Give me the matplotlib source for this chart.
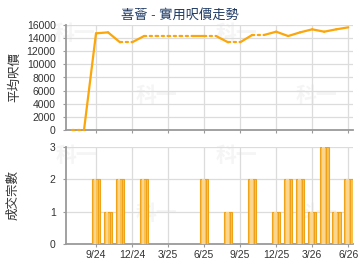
import matplotlib
matplotlib.use("Agg")
import matplotlib.pyplot as plt
import numpy as np

months = ["7/24", "8/24", "9/24", "10/24", "11/24", "12/24", "1/25", "2/25", "3/25", "4/25",
          "5/25", "6/25", "7/25", "8/25", "9/25", "10/25", "11/25", "12/25", "1/26", "2/26",
          "3/26", "4/26", "5/26", "6/26"]
price = [0, 0, 14730, 14880, 13360, 13360, 14320, 14320, 14320, 14320,
         14320, 14320, 14320, 13360, 13360, 14480, 14480, 14980, 14320, 14880,
         15340, 14980, 15340, 15640]
counts = [0, 0, 2, 1, 2, 0, 2, 0, 0, 0,
          0, 2, 0, 1, 0, 2, 0, 1, 2, 2,
          1, 3, 1, 2]
tick_labels = ["9/24", "12/24", "3/25", "6/25", "9/25", "12/25", "3/26", "6/26"]

title = "喜薈 - 實用呎價走勢"
ylabel_top = "平均呎價"
ylabel_bot = "成交宗數"

plt.rcParams['font.family'] = ['Liberation Sans', 'Noto Sans CJK TC', 'DejaVu Sans']

fig = plt.figure(figsize=(3.6, 2.7), dpi=100)
W, H = 360.0, 270.0

def axes_px(x0, y0, x1, y1):
    return fig.add_axes([x0 / W, 1 - y1 / H, (x1 - x0) / W, (y1 - y0) / H])

ax1 = axes_px(66, 25, 353, 130)
ax2 = axes_px(66, 147, 353, 244)

x = np.arange(len(months))
tick_pos = [months.index(t) for t in tick_labels]

line_color = "#FBA60A"
grid_color = "#DCDCDC"
spine_color = "#9A9A9A"
text_color = "#333333"

# watermarks
for (wx, wy) in [(74, 33), (156, 95), (236, 33), (316, 95),
                 (76, 156), (156, 213), (236, 156), (316, 213)]:
    fig.text(wx / W, 1 - wy / H, "科一", fontsize=15, fontweight='bold',
             color="#F5F5F5", ha='center', va='center', zorder=-5,
             family=['Noto Sans CJK TC'])

for ax in (ax1, ax2):
    ax.set_facecolor('none')
    ax.set_xlim(-0.5, 23.4)
    ax.set_xticks(tick_pos)
    for s in ("top", "right"):
        ax.spines[s].set_visible(False)
    for s in ("left", "bottom"):
        ax.spines[s].set_color(spine_color)
        ax.spines[s].set_linewidth(1.3)
    ax.grid(True, color=grid_color, linewidth=0.9)
    ax.set_axisbelow(True)
    ax.tick_params(axis='both', colors=spine_color, length=2.5, width=0.8,
                   labelcolor=text_color, labelsize=7.5)
    ax.tick_params(axis='y', pad=5)
    ax.tick_params(axis='x', pad=1.5)

# top: price line
for i in range(len(x) - 1):
    solid = counts[i + 1] > 0
    ax1.plot(x[i:i + 2], price[i:i + 2], color=line_color, linewidth=1.6,
             linestyle='-' if solid else (0, (1, 1.6)),
             solid_capstyle='round', dash_capstyle='round', solid_joinstyle='round',
             clip_on=False, zorder=3)
ax1.set_ylim(0, 16000)
ax1.set_yticks(np.arange(0, 16001, 2000))
ax1.set_xticklabels([])
fig.text(180 / W, 1 - 15 / H, title, fontsize=9.5, color="#1E3A64",
         ha='center', va='center')
ax1.set_ylabel(ylabel_top, fontsize=9, color=text_color, labelpad=4)

# bottom: count bars with simple shading
bw = 0.72
ax2.bar(x, counts, width=bw, color="#F8C150", edgecolor="#EFA318", linewidth=0.8, zorder=3)
ax2.bar(x - bw * 0.12, counts, width=bw * 0.34, color="#FCD68C", linewidth=0, zorder=4)
ax2.bar(x + bw * 0.3, counts, width=bw * 0.14, color="#EFA11A", linewidth=0, zorder=4)
ax2.set_ylim(0, 3)
ax2.set_yticks([0, 1, 2, 3])
ax2.set_xticklabels(tick_labels)
ax2.set_ylabel(ylabel_bot, fontsize=9, color=text_color, labelpad=22)

fig.savefig("out.png", dpi=100)
